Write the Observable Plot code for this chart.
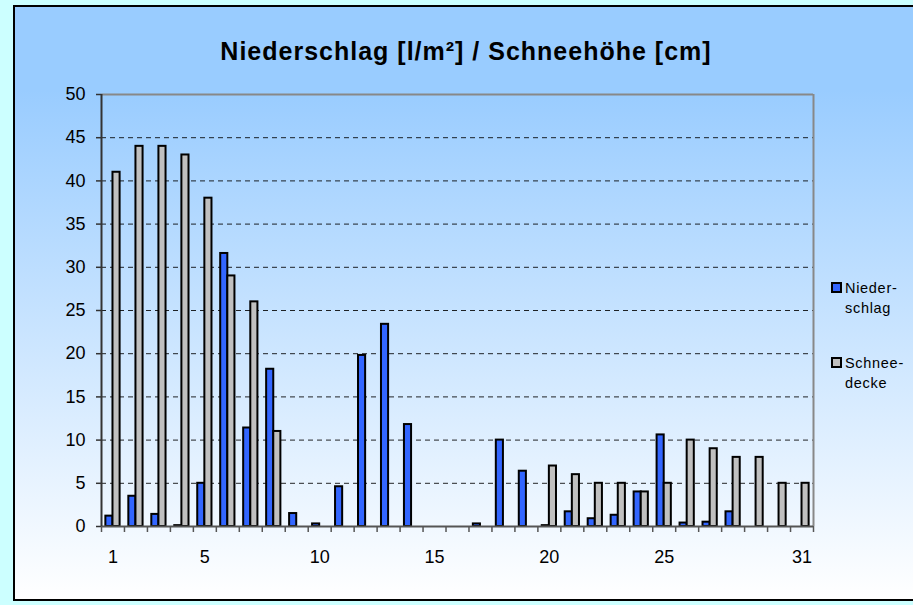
<!DOCTYPE html>
<html>
<head>
<meta charset="utf-8">
<script src="https://cdn.jsdelivr.net/npm/d3@7"></script>
<script src="https://cdn.jsdelivr.net/npm/@observablehq/plot@0.6"></script>
<style>
  html, body { margin: 0; padding: 0; }
  body { width: 913px; height: 605px; background: #CCFFFF; position: relative; overflow: hidden;
         font-family: Arial, "Liberation Sans", sans-serif; }
  #frame { position: absolute; left: 13px; top: 5px; width: 920px; height: 596px;
           border: 2px solid #000; box-sizing: border-box;
           background: linear-gradient(to bottom, #99CCFF 0%, #99CCFF 14%, #FFFFFF 100%); }
  #chart { position: absolute; left: 0; top: 0; }
  #title { position: absolute; left: 0; width: 932px; top: 36px; text-align: center;
           font-weight: bold; font-size: 25px; letter-spacing: 1px; color: #000; line-height: 30px; }
  .leg { position: absolute; font-size: 14.5px; letter-spacing: 0.7px; line-height: 20px; color: #000; }
  .sw { position: absolute; width: 7px; height: 7px; border: 2px solid #000; }
</style>
</head>
<body>
<div id="frame"></div>
<div id="title">Niederschlag [l/m²] / Schneehöhe [cm]</div>
<div id="chart"></div>
<div class="sw" style="left:831px;top:282px;background:#3366FF"></div>
<div class="leg" style="left:845px;top:278px">Nieder-<br>schlag</div>
<div class="sw" style="left:831px;top:357px;background:#C0C0C0"></div>
<div class="leg" style="left:845px;top:353px">Schnee-<br>decke</div>
<script>
const days = [1,2,3,4,5,6,7,8,9,10,11,12,13,14,15,16,17,18,19,20,21,22,23,24,25,26,27,28,29,30,31];
const niederschlag = [1.2,3.5,1.4,0.1,5.0,31.6,11.4,18.2,1.5,0.3,4.6,19.8,23.4,11.8,0,0,0.3,10.0,6.4,0.1,1.7,0.9,1.3,4.0,10.6,0.4,0.5,1.7,null,null,null];
const schneedecke = [41,44,44,43,38,29,26,11,null,null,null,null,null,null,null,null,null,null,null,7,6,5,5,4,5,10,9,8,8,5,5];
const xLabels = [1,5,10,15,20,25,31];
const yTicks = [0,5,10,15,20,25,30,35,40,45,50];
const gridTicks = [5,10,15,20,25,30,35,40,45];
const boundaries = d3.range(0, 32).map(i => i + 0.5);

const nData = days.map((d, i) => ({day: d, v: niederschlag[i]})).filter(d => d.v != null && d.v > 0);
const sData = days.map((d, i) => ({day: d, v: schneedecke[i]})).filter(d => d.v != null && d.v > 0);

const chart = Plot.plot({
  width: 913,
  height: 605,
  marginLeft: 101,
  marginRight: 100,
  marginTop: 94,
  marginBottom: 79,
  style: {background: "transparent", fontFamily: "Arial, 'Liberation Sans', sans-serif", fontSize: "18px", color: "#000"},
  x: {domain: [0.5, 31.5], axis: null, label: null},
  y: {domain: [0, 50], axis: null, label: null},
  marks: [
    Plot.ruleY(gridTicks, {stroke: "#000", strokeWidth: 1, strokeDasharray: "5,4", strokeOpacity: 0.85}),
    Plot.rectY(nData, {x1: d => d.day - 0.31, x2: d => d.day, y: "v", fill: "#3366FF", stroke: "#000", strokeWidth: 2}),
    Plot.rectY(sData, {x1: d => d.day, x2: d => d.day + 0.31, y: "v", fill: "#C0C0C0", stroke: "#000", strokeWidth: 2}),
    Plot.ruleY([50], {stroke: "#888", strokeWidth: 2}),
    Plot.ruleX([31.5], {stroke: "#888", strokeWidth: 2}),
    Plot.ruleY([0], {stroke: "#555", strokeWidth: 2}),
    Plot.ruleX([0.5], {stroke: "#333", strokeWidth: 2}),
    Plot.axisY({ticks: yTicks, label: null, tickSize: 5, tickPadding: 11, tickFormat: d => String(d), stroke: "#333", strokeWidth: 1.5, fontSize: 18, fill: "#000"}),
    Plot.axisX({ticks: boundaries, label: null, tickSize: 6, tickFormat: () => "", stroke: "#555", strokeWidth: 1.5}),
    Plot.axisX({ticks: xLabels, label: null, tickSize: 0, tickPadding: 24, tickFormat: d => String(d), fontSize: 18, fill: "#000"})
  ]
});
document.getElementById("chart").appendChild(chart);
</script>
</body>
</html>
